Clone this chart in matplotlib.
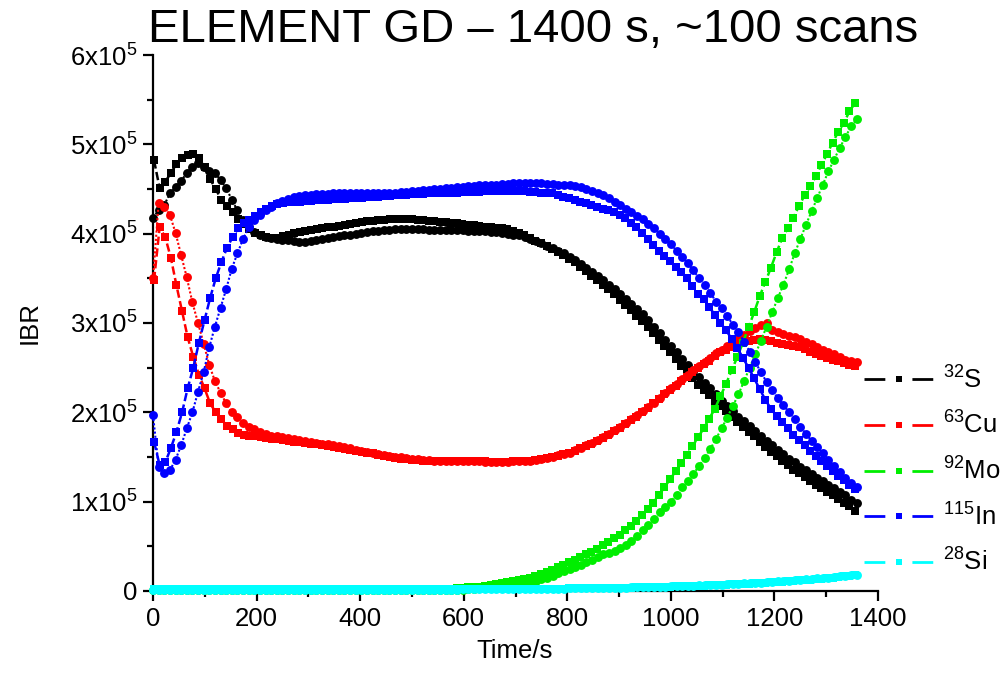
import matplotlib
matplotlib.use('Agg')
import matplotlib.pyplot as plt
import numpy as np
from matplotlib.lines import Line2D

plt.rcParams['font.family'] = ['Liberation Sans', 'DejaVu Sans']
plt.rcParams['mathtext.fontset'] = 'custom'
plt.rcParams['mathtext.rm'] = 'Liberation Sans'
plt.rcParams['mathtext.it'] = 'Liberation Sans:italic'
plt.rcParams['lines.scale_dashes'] = False

# ---------------- data (intensities in units of 1e3) ----------------
n_scans = 126
time_run1 = 2 + 10.83 * np.arange(n_scans)   # square markers
time_run2 = 10.87 * np.arange(n_scans)       # circle markers

S_run1 = [482, 451, 458, 468, 478, 485, 488, 489, 485, 475,
          461, 450, 438, 431, 424, 416, 411, 405, 401, 398,
          396, 395, 395, 397, 399, 401, 402, 403, 404, 405,
          406, 407, 408, 409, 410, 411, 412, 413, 414, 414,
          415, 415, 416, 416, 416, 416, 416, 415, 415, 414,
          414, 413, 413, 412, 412, 411, 410, 410, 409, 408,
          407, 406, 406, 405, 403, 401, 398, 395, 392, 389,
          386, 383, 379, 376, 372, 368, 363, 358, 353, 348,
          343, 338, 332, 326, 320, 314, 308, 302, 296, 289,
          281, 274, 267, 260, 252, 245, 238, 231, 225, 219,
          213, 207, 201, 195, 189, 184, 178, 173, 167, 161,
          156, 151, 146, 141, 136, 132, 128, 123, 119, 115,
          111, 107, 103, 99, 95, 90]
S_run2 = [418, 426, 432, 445, 452, 459, 468, 475, 479, 475,
          470, 468, 460, 451, 438, 426, 415, 407, 402, 398,
          396, 395, 394, 393, 393, 392, 391, 391, 392, 393,
          394, 395, 396, 397, 398, 399, 400, 401, 402, 403,
          403, 404, 404, 405, 405, 405, 405, 405, 405, 404,
          404, 404, 404, 404, 404, 404, 403, 403, 403, 403,
          402, 402, 401, 400, 399, 398, 396, 394, 392, 389,
          386, 384, 381, 378, 374, 370, 366, 362, 357, 353,
          348, 343, 338, 332, 327, 321, 316, 310, 303, 296,
          289, 281, 274, 267, 260, 253, 246, 240, 233, 227,
          220, 213, 207, 201, 195, 190, 185, 179, 174, 168,
          163, 158, 153, 148, 144, 139, 135, 131, 127, 123,
          119, 115, 111, 107, 102, 98]
Cu_run1 = [348, 407, 396, 373, 342, 313, 284, 262, 242, 227,
           210, 200, 192, 185, 181, 177, 175, 174, 173, 172,
           171, 170, 170, 169, 168, 167, 167, 166, 165, 164,
           163, 162, 161, 160, 159, 158, 157, 156, 155, 154,
           152, 151, 150, 149, 148, 148, 147, 147, 146, 146,
           146, 145, 145, 145, 145, 145, 145, 145, 145, 145,
           144, 144, 144, 144, 145, 145, 146, 146, 147, 148,
           149, 150, 151, 153, 155, 157, 160, 162, 165, 168,
           171, 175, 179, 183, 187, 191, 195, 200, 205, 210,
           215, 220, 225, 230, 235, 240, 245, 250, 254, 258,
           263, 267, 270, 273, 276, 278, 280, 281, 282, 281,
           280, 278, 276, 275, 274, 273, 271, 268, 265, 263,
           261, 259, 257, 255, 253, 252]
Cu_run2 = [350, 434, 430, 421, 401, 376, 351, 323, 300, 277,
           253, 235, 222, 210, 200, 195, 188, 184, 181, 178,
           176, 174, 173, 172, 171, 170, 169, 168, 167, 166,
           165, 164, 163, 162, 161, 160, 158, 157, 156, 155,
           153, 152, 151, 150, 150, 149, 148, 148, 147, 147,
           146, 146, 146, 146, 145, 145, 145, 145, 145, 144,
           144, 144, 144, 144, 145, 145, 146, 146, 147, 148,
           149, 150, 152, 153, 155, 158, 160, 163, 166, 169,
           172, 176, 180, 184, 188, 192, 197, 202, 206, 211,
           216, 222, 227, 232, 237, 242, 247, 252, 256, 261,
           266, 270, 274, 278, 283, 287, 291, 294, 298, 300,
           292, 290, 288, 286, 284, 282, 279, 276, 273, 270,
           267, 265, 262, 259, 257, 256]
Mo_run1 = [1.0, 1.0, 1.0, 1.0, 1.0, 1.0, 1.0, 1.0, 1.0, 1.0,
           1.0, 1.0, 1.0, 1.0, 1.0, 1.0, 1.0, 1.0, 1.0, 1.0,
           1.0, 1.0, 1.0, 1.0, 1.0, 1.0, 1.0, 1.0, 1.0, 1.0,
           1.0, 1.0, 1.0, 1.0, 1.0, 1.0, 1.0, 1.0, 1.0, 1.0,
           1.0, 1.0, 1.0, 1.0, 1.0, 1.0, 1.0, 1.0, 1.0, 1.0,
           1.0, 1.5, 2, 2, 3, 3, 4, 4, 5, 6,
           7, 8, 9, 10, 11, 12, 13, 15, 17, 19,
           21, 24, 27, 29, 32, 35, 38, 41, 44, 47,
           51, 55, 59, 63, 68, 73, 78, 85, 92, 99,
           107, 116, 125, 134, 143, 152, 162, 172, 182, 193,
           204, 218, 232, 247, 262, 278, 295, 312, 330, 346,
           362, 379, 395, 406, 418, 431, 443, 453, 464, 477,
           489, 502, 514, 524, 537, 546]
Mo_run2 = [0.8, 0.8, 0.8, 0.8, 0.8, 0.8, 0.8, 0.8, 0.8, 0.8,
           0.8, 0.8, 0.8, 0.8, 0.8, 0.8, 0.8, 0.8, 0.8, 0.8,
           0.8, 0.8, 0.8, 0.8, 0.8, 0.8, 0.8, 0.8, 0.8, 0.8,
           0.8, 0.8, 0.8, 0.8, 0.8, 0.8, 0.8, 0.8, 0.8, 0.8,
           0.8, 0.8, 0.8, 0.8, 0.8, 0.8, 0.8, 0.8, 0.8, 0.8,
           0.8, 0.8, 0.8, 0.8, 0.8, 1, 2, 2, 3, 3,
           4, 5, 5, 6, 7, 7, 8, 10, 11, 13,
           15, 17, 20, 22, 25, 27, 29, 32, 35, 38,
           41, 43, 45, 48, 51, 56, 62, 68, 74, 81,
           88, 94, 100, 108, 116, 123, 131, 140, 149, 159,
           170, 182, 194, 207, 220, 235, 250, 265, 280, 296,
           312, 328, 343, 360, 378, 394, 410, 425, 440, 455,
           470, 483, 496, 508, 520, 528]
In_run1 = [167, 141, 144, 160, 178, 200, 227, 250, 278, 303,
           328, 350, 368, 384, 396, 406, 412, 415, 420, 424,
           428, 431, 433, 434, 435, 436, 436, 437, 437, 438,
           438, 438, 439, 439, 439, 440, 440, 440, 441, 441,
           441, 442, 442, 443, 443, 443, 444, 444, 444, 445,
           445, 445, 446, 446, 446, 447, 447, 447, 447, 448,
           448, 448, 448, 448, 448, 448, 448, 447, 447, 446,
           446, 445, 443, 441, 440, 438, 436, 434, 432, 430,
           428, 426, 424, 421, 417, 412, 407, 401, 394, 387,
           381, 375, 369, 363, 357, 350, 341, 333, 327, 318,
           309, 300, 292, 282, 272, 261, 250, 238, 226, 214,
           204, 196, 189, 182, 175, 169, 163, 157, 151, 145,
           140, 134, 129, 124, 119, 114]
In_run2 = [197, 139, 132, 135, 147, 163, 182, 200, 223, 245,
           273, 296, 317, 338, 361, 378, 394, 407, 415, 421,
           426, 430, 434, 437, 439, 441, 442, 443, 443, 444,
           444, 444, 445, 445, 445, 445, 445, 445, 446, 446,
           446, 446, 446, 446, 447, 447, 448, 448, 449, 449,
           450, 450, 451, 451, 452, 452, 453, 453, 454, 454,
           455, 455, 456, 456, 457, 457, 457, 457, 457, 457,
           456, 456, 455, 455, 454, 453, 452, 450, 448, 446,
           443, 440, 436, 432, 428, 424, 420, 416, 411, 406,
           400, 394, 388, 381, 374, 367, 359, 350, 342, 334,
           324, 317, 308, 298, 290, 279, 268, 256, 245, 234,
           225, 216, 208, 200, 192, 184, 176, 168, 161, 154,
           147, 140, 133, 127, 121, 116]
Si_run1 = [1.8, 1.8, 1.8, 1.8, 1.8, 1.8, 1.8, 1.8, 1.8, 1.8,
           1.8, 1.8, 1.8, 1.8, 1.8, 1.8, 1.8, 1.8, 1.8, 1.8,
           1.8, 1.8, 1.8, 1.8, 1.8, 1.8, 1.8, 1.8, 1.8, 1.8,
           1.8, 1.8, 1.8, 1.8, 1.8, 1.8, 1.8, 1.8, 1.8, 1.8,
           1.8, 1.8, 1.8, 1.8, 1.8, 1.8, 1.8, 1.8, 1.8, 1.8,
           1.8, 1.8, 1.8, 1.8, 1.8, 1.8, 1.9, 1.9, 1.9, 2.0,
           2.0, 2.0, 2.1, 2.1, 2.2, 2.2, 2.3, 2.3, 2.4, 2.4,
           2.5, 2.6, 2.6, 2.7, 2.8, 2.9, 2.9, 3.0, 3.1, 3.2,
           3.3, 3.4, 3.5, 3.6, 3.7, 3.9, 4.0, 4.1, 4.3, 4.4,
           4.6, 4.8, 4.9, 5.1, 5.3, 5.5, 5.7, 5.9, 6.1, 6.4,
           6.6, 6.9, 7.1, 7.4, 7.7, 8.0, 8.3, 8.7, 9.0, 9.4,
           9.8, 10.2, 10.6, 11.0, 11.4, 11.9, 12.3, 12.8, 13.3, 13.8,
           14.4, 15.0, 15.6, 16.3, 17.0, 17.8]
Si_run2 = [1.6, 1.6, 1.6, 1.6, 1.6, 1.6, 1.6, 1.6, 1.6, 1.6,
           1.6, 1.6, 1.6, 1.6, 1.6, 1.6, 1.6, 1.6, 1.6, 1.6,
           1.6, 1.6, 1.6, 1.6, 1.6, 1.6, 1.6, 1.6, 1.6, 1.6,
           1.6, 1.6, 1.6, 1.6, 1.6, 1.6, 1.6, 1.6, 1.6, 1.6,
           1.6, 1.6, 1.6, 1.6, 1.6, 1.6, 1.6, 1.6, 1.6, 1.6,
           1.6, 1.6, 1.6, 1.6, 1.6, 1.7, 1.7, 1.8, 1.8, 1.9,
           1.9, 2.0, 2.0, 2.1, 2.1, 2.2, 2.2, 2.3, 2.4, 2.4,
           2.5, 2.6, 2.7, 2.7, 2.8, 2.9, 3.0, 3.1, 3.2, 3.3,
           3.4, 3.5, 3.6, 3.7, 3.9, 4.0, 4.1, 4.3, 4.4, 4.6,
           4.8, 4.9, 5.1, 5.3, 5.5, 5.7, 5.9, 6.2, 6.4, 6.7,
           6.9, 7.2, 7.5, 7.8, 8.1, 8.4, 8.8, 9.1, 9.5, 9.9,
           10.3, 10.7, 11.1, 11.6, 12.0, 12.5, 13.0, 13.5, 14.0, 14.5,
           15.1, 15.7, 16.3, 17.0, 17.7, 18.4]

series_labels = ['$^{32}$S', '$^{63}$Cu', '$^{92}$Mo', '$^{115}$In', '$^{28}$Si']
series_colors = ['#000000', '#ff0000', '#00ee00', '#0000ff', '#00ffff']
runs1 = [S_run1, Cu_run1, Mo_run1, In_run1, Si_run1]
runs2 = [S_run2, Cu_run2, Mo_run2, In_run2, Si_run2]

x_ticks = [0, 200, 400, 600, 800, 1000, 1200, 1400]
y_ticks = [0, 1e5, 2e5, 3e5, 4e5, 5e5, 6e5]
y_tick_labels = ['0', '1x10$^{5}$', '2x10$^{5}$', '3x10$^{5}$',
                 '4x10$^{5}$', '5x10$^{5}$', '6x10$^{5}$']
title_text = 'ELEMENT GD \u2013 1400 s, ~100 scans'

# ---------------- figure ----------------
W, H = 1006, 687
fig = plt.figure(figsize=(W / 100, H / 100), dpi=100)
ax = fig.add_axes([153 / W, 1 - 591 / H, 725 / W, 536 / H])

for r1, r2, col in zip(runs1, runs2, series_colors):
    ax.plot(time_run1, np.array(r1) * 1e3, color=col, lw=1.8,
            linestyle=(0, (6, 2.5)), marker='s', markersize=5.6,
            markeredgewidth=0, clip_on=False, zorder=3)
    ax.plot(time_run2, np.array(r2) * 1e3, color=col, lw=1.5,
            linestyle=(0, (1.5, 1.5)), marker='o', markersize=6.4,
            markeredgewidth=0, clip_on=False, zorder=3)

ax.set_xlim(0, 1400)
ax.set_ylim(0, 6e5)
ax.set_xticks(x_ticks)
ax.set_xticklabels([str(v) for v in x_ticks])
ax.set_xticks(np.arange(100, 1400, 200), minor=True)
ax.set_yticks(y_ticks)
ax.set_yticklabels(y_tick_labels)
ax.set_yticks(np.arange(0.5e5, 6e5, 1e5), minor=True)

for s in ['top', 'right']:
    ax.spines[s].set_visible(False)
for s in ['left', 'bottom']:
    ax.spines[s].set_linewidth(1.6)

ax.tick_params(axis='both', which='major', direction='out', length=7.5,
               width=1.6, labelsize=18.5, pad=4)
ax.tick_params(axis='both', which='minor', direction='out', length=4,
               width=1.6)

ax.set_xlabel('Time/s', fontsize=18.5)
ax.set_ylabel('IBR', fontsize=18.5)
ax.xaxis.set_label_coords((515 - 153) / 725, -(639 - 591) / 536)
ax.yaxis.set_label_coords((42 - 153) / 725, 0.5)

fig.text(533 / W, 1 - 30 / H, title_text, ha='center', va='center',
         fontsize=34)

handles = [Line2D([], [], color=c, lw=2, linestyle=(0, (15, 19.5)),
                  marker='s', markersize=4.3, markeredgewidth=0)
           for c in series_colors]
fig.legend(handles, series_labels, loc='upper left',
           bbox_to_anchor=(864 / W, 1 - 366 / H), frameon=False,
           fontsize=18.5, handlelength=2.69, handletextpad=0.4,
           labelspacing=0.72, borderpad=0, borderaxespad=0, numpoints=1)

fig.savefig('out.png', dpi=100)
